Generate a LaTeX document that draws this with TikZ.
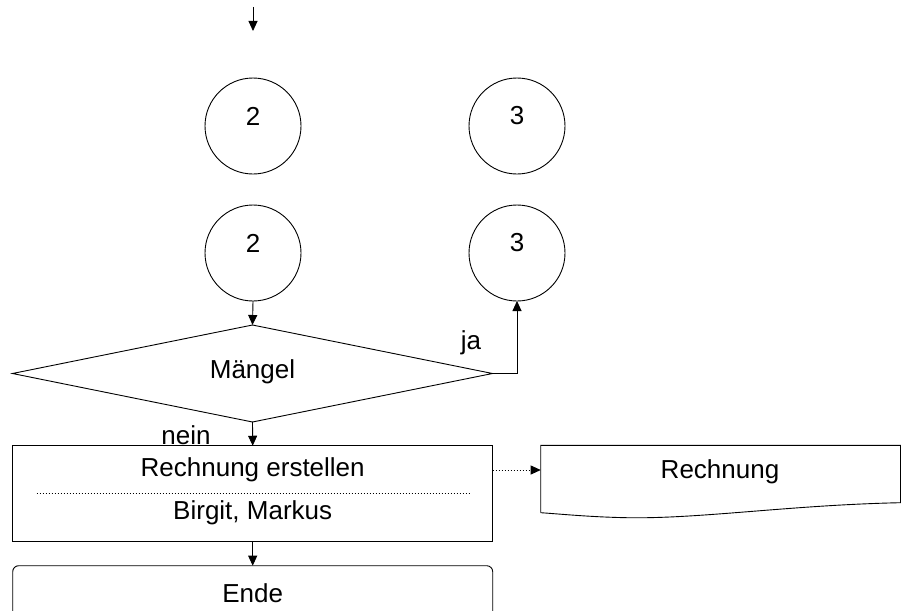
\documentclass[tikz,border=0pt]{standalone}
\usepackage{fontspec}
\setmainfont{Liberation Sans}
\usetikzlibrary{shapes.geometric,arrows.meta}
\begin{document}
\begin{tikzpicture}[x=1pt,y=-1pt,
  every node/.style={font=\fontsize{26}{30}\selectfont},
  ln/.style={line width=0.9pt,draw=black},
  arr/.style={ln,-{Triangle[length=10pt,width=9pt]}},
  conn/.style={ln,circle,minimum size=96pt,inner sep=0pt,outer sep=0pt},
  txt/.style={inner sep=0pt,outer sep=0pt},
  digit/.style={txt,yshift=10pt}]
\useasboundingbox (0,0) rectangle (901,610);
\clip (0,0) rectangle (901,610);

% incoming flow
\coordinate (in1) at (253,7);
\coordinate (in2) at (253,31);
\draw[arr] (in1) -- (in2);

% connectors
\node[conn] (c2a) at (253,126) {};
\node[conn] (c3a) at (517,126) {};
\node[conn] (c2b) at (253,253) {};
\node[conn] (c3b) at (517,253) {};
\node[digit] (n2a) at (c2a.center) {2};
\node[digit] (n3a) at (c3a.center) {3};
\node[digit] (n2b) at (c2b.center) {2};
\node[digit] (n3b) at (c3b.center) {3};

% decision
\node[ln,diamond,minimum width=480pt,minimum height=97pt,inner sep=0pt,outer sep=0pt] (dec) at (252.5,373.5) {};
\node[txt] (dectxt) at (252.5,372) {Mängel};
\node[txt] (ja) at (471,343) {ja};
\node[txt] (nein) at (186,435) {nein};

% task box
\node[ln,rectangle,minimum width=480pt,minimum height=95.5pt,inner sep=0pt,outer sep=0pt] (task) at (252.7,493.5) {};
\node[txt] (tasktxt) at (252.7,470) {Rechnung erstellen};
\node[txt] (who) at (252.7,513) {Birgit, Markus};
\draw[line width=0.6pt,dash pattern=on 1.6pt off 1.4pt] (36.5,493) coordinate (divl) -- (469,493) coordinate (divr);

% end box
\node[ln,rectangle,rounded corners=6pt,minimum width=480pt,minimum height=80pt,inner sep=0pt,outer sep=0pt] (ende) at (252.7,605.7) {};
\node[txt] (endetxt) at (252.7,593) {Ende};

% document
\node[txt,minimum width=360pt,minimum height=58pt] (doc) at (720.7,474) {};
\draw[ln] (540.7,512.7) -- (540.7,445.3) -- (900.5,445.3) -- (900.5,502.7)
  .. controls (790,505) and (700,519) .. (626.7,517.7)
  .. controls (590,517) and (560,514) .. (540.7,512.7);
\node[txt] (doctxt) at (720,471.5) {Rechnung};

% flow lines
\draw[arr] (c2b.south) -- (dec.north);
\draw[arr] (dec.east) -| (c3b.south);
\draw[arr] (dec.south) -- (task.north);
\draw[arr] (task.south) -- (ende.north);
\draw[ln,dash pattern=on 1.6pt off 1.4pt,-{Triangle[length=10pt,width=9pt]}]
  (task.east |- tasktxt) -- (doc.west |- tasktxt);
\end{tikzpicture}
\end{document}
